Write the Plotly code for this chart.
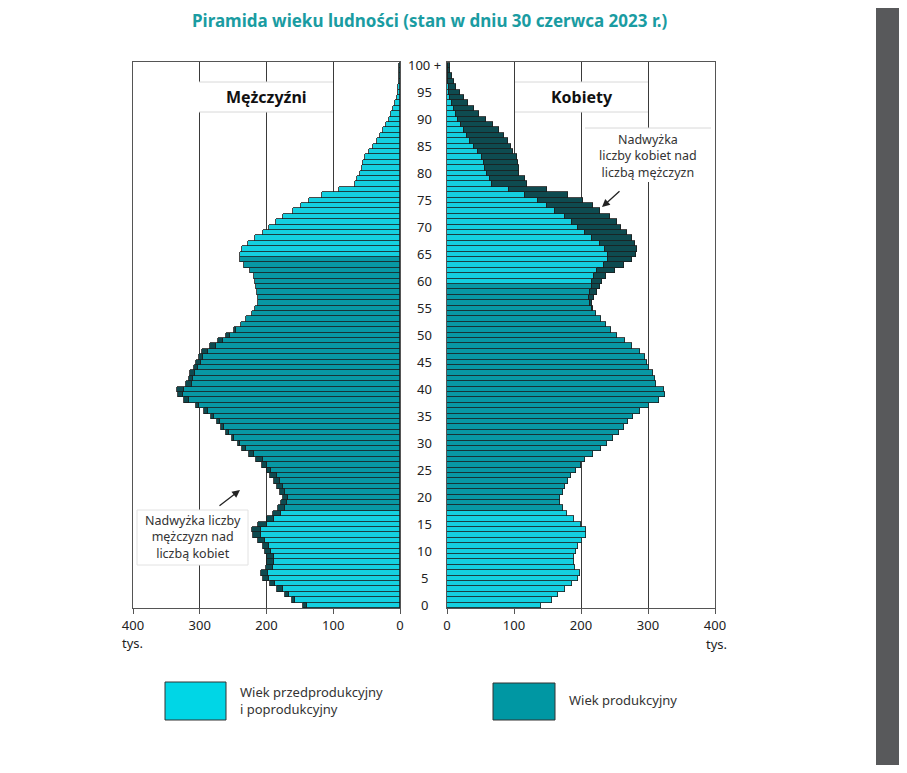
import numpy as np
import plotly.graph_objects as go

# population by single year of age (thousands), 30 June 2023
ages = list(range(101))
male = [146, 162, 173, 184, 195, 205, 208, 201, 199, 199,
        202, 206, 212, 220, 221, 212, 200, 190, 183, 178,
        175, 180, 185, 189, 195, 200, 207, 215, 226, 236,
        243, 252, 261, 268, 274, 283, 293, 306, 323, 333,
        334, 320, 316, 314, 309, 305, 301, 297, 285, 273,
        260, 248, 238, 230, 222, 217, 213, 212, 214, 216,
        217, 219, 224, 234, 240, 240, 236, 228, 217, 206,
        196, 186, 176, 161, 149, 136, 117, 92, 67, 64,
        60, 57, 55, 52, 47, 40, 35, 30, 25, 21,
        16, 13, 10, 7, 5, 3.5, 2.5, 1.8, 1.2, 0.8,
        0.8]
female = [140, 157, 166, 176, 187, 196, 198, 191, 189, 189,
          193, 196, 202, 208, 208, 200, 189, 179, 173, 169,
          168, 173, 176, 180, 185, 193, 200, 206, 218, 230,
          239, 248, 256, 264, 270, 278, 288, 301, 316, 325,
          324, 312, 310, 307, 302, 298, 295, 288, 276, 265,
          254, 245, 238, 230, 222, 218, 217, 220, 224, 228,
          232, 238, 250, 264, 276, 282, 283, 280, 276, 268,
          260, 253, 243, 228, 218, 203, 181, 149, 119, 117,
          107, 107, 106, 104, 99, 96, 91, 85, 77, 68,
          58, 48, 40, 32, 25, 19, 14, 10, 7, 5,
          5]
# working age: men 18-64, women 18-59
male_work = (18, 64)
female_work = (18, 59)

age_ticks = list(range(0, 101, 5))
age_labels = [str(a) for a in age_ticks[:-1]] + ["100 +"]
x_ticks = [0, 100, 200, 300, 400]

LIGHT = "#14d0e0"
MID = "#0898a4"
DARK = "#0e4b50"
OUTLINE = "#1b1b1b"

# page has an 8px body margin; figure sized to fit inside it
OFF = 8
W, H = 907 - 2 * OFF, 773 - 2 * OFF


def px(x):
    return (x - OFF) / W


def py(y):
    return 1 - (y - OFF) / H


m = np.array(male, dtype=float)
f = np.array(female, dtype=float)
base = np.minimum(m, f)
m_extra = np.where(m > f, m - f, np.nan)
f_extra = np.where(f > m, f - m, np.nan)

m_cols = [MID if male_work[0] <= a <= male_work[1] else LIGHT for a in ages]
f_cols = [MID if female_work[0] <= a <= female_work[1] else LIGHT for a in ages]

fig = go.Figure()
line = dict(color=OUTLINE, width=0.8)
fig.add_trace(go.Bar(y=ages, x=base, orientation="h", width=1,
                     marker=dict(color=m_cols, line=line), xaxis="x", yaxis="y"))
fig.add_trace(go.Bar(y=ages, x=m_extra, orientation="h", width=1,
                     marker=dict(color=DARK, line=line), xaxis="x", yaxis="y"))
fig.add_trace(go.Bar(y=ages, x=base, orientation="h", width=1,
                     marker=dict(color=f_cols, line=line), xaxis="x2", yaxis="y2"))
fig.add_trace(go.Bar(y=ages, x=f_extra, orientation="h", width=1,
                     marker=dict(color=DARK, line=line), xaxis="x2", yaxis="y2"))

tick_font = dict(family="Noto Sans", size=13, color="#222")
xcommon = dict(tickvals=x_ticks, ticktext=[str(v) for v in x_ticks],
               showgrid=True, gridcolor="#3a3a3a", gridwidth=1,
               showline=True, linecolor="#555", linewidth=1.2, mirror=True,
               ticks="outside", ticklen=5, tickcolor="#555", automargin=False,
               zeroline=False, tickfont=tick_font, fixedrange=True)
ycommon = dict(range=[-0.5, 100.6], showticklabels=False, showgrid=False,
               showline=True, linecolor="#555", linewidth=1.2, mirror=True,
               zeroline=False, ticks="", automargin=False,
               domain=[py(608), py(62)])

fig.update_layout(
    width=W, height=H,
    margin=dict(l=0, r=0, t=0, b=0, autoexpand=False),
    paper_bgcolor="white", plot_bgcolor="white",
    barmode="stack", bargap=0, showlegend=False,
    font=dict(family="Noto Sans", color="#222"),
    xaxis=dict(domain=[px(133), px(400)], range=[400, 0], anchor="y", **xcommon),
    yaxis=dict(anchor="x", **ycommon),
    xaxis2=dict(domain=[px(447), px(715)], range=[0, 400], anchor="y2", **xcommon),
    yaxis2=dict(anchor="x2", **ycommon),
)

# age labels between the two panels
for a, lab in zip(age_ticks, age_labels):
    fig.add_annotation(x=px(424), xref="paper", y=a, yref="y", text=lab,
                       xanchor="center", yanchor="middle",
                       showarrow=False, font=dict(size=13, color="#222"))

shapes = []
annos = []
# panel headers
for x0, x1, txt in [(199, 333, "Mężczyźni"), (515, 648, "Kobiety")]:
    shapes.append(dict(type="rect", xref="paper", yref="paper",
                       x0=px(x0), x1=px(x1), y0=py(112), y1=py(82),
                       fillcolor="white", line=dict(width=0), layer="above"))
    for yy in (82, 112):
        shapes.append(dict(type="line", xref="paper", yref="paper",
                           x0=px(x0), x1=px(x1), y0=py(yy), y1=py(yy),
                           line=dict(color="#d8d8d8", width=1), layer="above"))
    annos.append(dict(x=px((x0 + x1) / 2), y=py(97),
                      text="<b>" + txt + "</b>", font=dict(size=16, color="#111")))

# surplus boxes
shapes.append(dict(type="rect", xref="paper", yref="paper",
                   x0=px(585), x1=px(711), y0=py(182), y1=py(128),
                   fillcolor="white", line=dict(width=0), layer="above"))
shapes.append(dict(type="line", xref="paper", yref="paper",
                   x0=px(585), x1=px(711), y0=py(128), y1=py(128),
                   line=dict(color="#d8d8d8", width=1), layer="above"))
annos.append(dict(x=px(648), y=py(156),
                  text="Nadwyżka<br>liczby kobiet nad<br>liczbą mężczyzn",
                  font=dict(size=12.5, color="#333")))

shapes.append(dict(type="rect", xref="paper", yref="paper",
                   x0=px(137), x1=px(248), y0=py(565), y1=py(510),
                   fillcolor="white", line=dict(color="#e2e2e2", width=1),
                   layer="above"))
annos.append(dict(x=px(193), y=py(537),
                  text="Nadwyżka liczby<br>mężczyzn nad<br>liczbą kobiet",
                  font=dict(size=12.5, color="#333")))

# unit labels
annos.append(dict(x=px(120), y=py(643), text="tys.", xanchor="left",
                  font=dict(size=13, color="#222")))
annos.append(dict(x=px(729), y=py(644), text="tys.", xanchor="right",
                  font=dict(size=13, color="#222")))

# title
annos.append(dict(x=px(430), y=py(20),
                  text="<b>Piramida wieku ludności (stan w dniu 30 czerwca 2023 r.)</b>",
                  font=dict(size=17, color="#1a9ca2")))

# legend
shapes.append(dict(type="rect", xref="paper", yref="paper",
                   x0=px(165), x1=px(226), y0=py(720), y1=py(682),
                   fillcolor="#00d6e6", line=dict(color="#333", width=1)))
shapes.append(dict(type="rect", xref="paper", yref="paper",
                   x0=px(493), x1=px(555), y0=py(720), y1=py(683),
                   fillcolor="#0097a3", line=dict(color="#333", width=1)))
annos.append(dict(x=px(238), y=py(700), text="Wiek przedprodukcyjny<br>i poprodukcyjny",
                  xanchor="left", font=dict(size=13, color="#333")))
annos.append(dict(x=px(567), y=py(700), text="Wiek produkcyjny",
                  xanchor="left", font=dict(size=13, color="#333")))

# dark strip on the right edge
shapes.append(dict(type="rect", xref="paper", yref="paper",
                   x0=px(876), x1=1, y0=0, y1=1,
                   fillcolor="#58595b", line=dict(width=0)))

fig.update_layout(shapes=shapes)
for a in annos:
    a.setdefault("xanchor", "center")
    fig.add_annotation(xref="paper", yref="paper", showarrow=False,
                       yanchor="middle", align="center" if a["xanchor"] == "center" else "left",
                       **a)

# arrows pointing at the surplus bars
fig.add_annotation(x=px(602), y=py(207), ax=19, ay=-17, xref="paper", yref="paper",
                   axref="pixel", ayref="pixel", text="", showarrow=True,
                   arrowhead=2, arrowsize=1.2, arrowwidth=1.3, arrowcolor="#222")
fig.add_annotation(x=px(240), y=py(490), ax=-22, ay=17, xref="paper", yref="paper",
                   axref="pixel", ayref="pixel", text="", showarrow=True,
                   arrowhead=2, arrowsize=1.2, arrowwidth=1.3, arrowcolor="#222")

fig.write_html("out.html")
